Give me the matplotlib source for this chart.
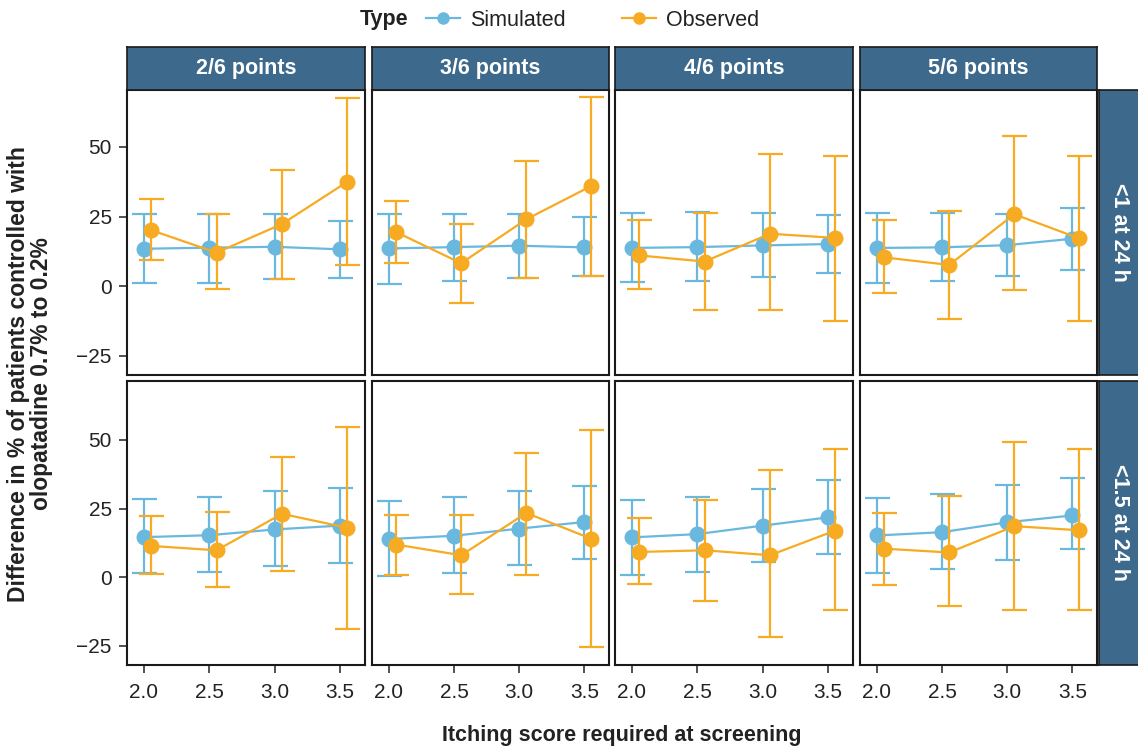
import matplotlib
matplotlib.use('Agg')
import matplotlib.pyplot as plt
from matplotlib.lines import Line2D

plt.rcParams['font.family'] = ['Liberation Sans', 'DejaVu Sans']

# data
itching = [2.0, 2.5, 3.0, 3.5]
col_labels = ['2/6 points', '3/6 points', '4/6 points', '5/6 points']
row_labels = ['<1 at 24 h', '<1.5 at 24 h']

# [row][col] -> values at each itching score
sim_mean = [[[13.4, 13.8, 14.1, 13.2], [13.5, 14.0, 14.5, 13.9],
             [13.7, 14.0, 14.6, 15.1], [13.7, 13.9, 14.7, 17.0]],
            [[14.6, 15.3, 17.4, 18.8], [13.9, 15.1, 17.7, 20.1],
             [14.5, 15.7, 18.8, 21.8], [15.2, 16.4, 20.0, 22.5]]]
sim_lo = [[[1.0, 1.0, 2.6, 2.9], [0.8, 1.7, 2.9, 3.5],
           [1.3, 1.9, 3.4, 4.6], [1.1, 1.9, 3.6, 5.9]],
          [[1.4, 1.8, 4.0, 5.2], [0.5, 1.6, 4.4, 6.5],
           [0.8, 2.0, 5.6, 8.6], [1.6, 3.0, 6.4, 10.4]]]
sim_hi = [[[26.0, 26.0, 26.0, 23.4], [26.0, 26.0, 26.0, 24.7],
           [26.1, 26.7, 26.3, 25.7], [26.3, 26.3, 26.0, 28.1]],
          [[28.5, 29.1, 31.3, 32.4], [27.9, 29.1, 31.5, 33.1],
           [28.1, 29.4, 32.1, 35.4], [28.7, 30.2, 33.5, 36.0]]]
obs_mean = [[[20.1, 12.0, 22.3, 37.5], [19.4, 8.2, 24.0, 36.0],
             [11.0, 8.8, 18.8, 17.3], [10.3, 7.6, 25.8, 17.1]],
            [[11.4, 9.8, 23.1, 18.0], [11.9, 8.0, 23.4, 14.0],
             [9.2, 9.8, 8.0, 17.0], [10.4, 9.0, 18.6, 17.1]]]
obs_lo = [[[9.4, -1.2, 2.6, 7.6], [8.4, -6.1, 3.0, 3.7],
           [-1.1, -8.8, -8.6, -12.6], [-2.4, -11.8, -1.4, -12.5]],
          [[1.1, -3.4, 2.4, -18.8], [0.8, -6.2, 0.7, -25.3],
           [-2.4, -8.5, -21.9, -11.8], [-2.8, -10.6, -12.1, -12.1]]]
obs_hi = [[[31.2, 26.0, 41.6, 67.6], [30.6, 22.4, 45.0, 68.1],
           [23.7, 26.4, 47.6, 46.9], [23.6, 27.0, 53.8, 46.8]],
          [[22.4, 23.7, 43.8, 54.7], [22.5, 22.5, 45.3, 53.6],
           [21.6, 28.2, 39.0, 46.8], [23.4, 29.5, 49.3, 46.9]]]

sim_color = '#6BB8DE'
obs_color = '#F6AB22'
strip_color = '#3D6A8C'
text_color = '#222222'

W, H = 1138, 747
fig = plt.figure(figsize=(W / 100, H / 100), dpi=100)


def box(l, t, r, b):
    return [l / W, 1 - b / H, (r - l) / W, (b - t) / H]


col_x = [(127, 365), (372, 609), (615, 853), (860, 1097)]
row_y = [(90, 375), (381, 665)]


def strip(rect, label, rot, weight):
    sax = fig.add_axes(box(*rect))
    sax.set_xticks([])
    sax.set_yticks([])
    sax.set_facecolor(strip_color)
    for s in sax.spines.values():
        s.set_color('#1a1a1a')
        s.set_linewidth(1.2)
    sax.text(0.5, 0.5, label, transform=sax.transAxes, ha='center',
             va='center', color='white', fontsize=15.5, fontweight=weight,
             rotation=rot)


def draw(ax, x, m, lo, hi, color, z):
    err = [[a - b for a, b in zip(m, lo)], [b - a for a, b in zip(m, hi)]]
    ax.errorbar(x, m, yerr=err, color=color, lw=1.6, capsize=9,
                capthick=1.6, marker='o', ms=10.5, zorder=z)


for r in range(2):
    for c in range(4):
        ax = fig.add_axes(box(col_x[c][0], row_y[r][0], col_x[c][1], row_y[r][1]))
        draw(ax, itching, sim_mean[r][c], sim_lo[r][c], sim_hi[r][c], sim_color, 2)
        draw(ax, [x + 0.055 for x in itching], obs_mean[r][c], obs_lo[r][c],
             obs_hi[r][c], obs_color, 3)
        ax.set_xlim(1.87, 3.69)
        ax.set_ylim(-32, 70.5 if r == 0 else 71.5)
        ax.set_xticks(itching)
        ax.set_yticks([-25, 0, 25, 50])
        for s in ax.spines.values():
            s.set_color('#1a1a1a')
            s.set_linewidth(1.5)
        ax.tick_params(length=6, width=1.2, color='#333333', labelsize=15,
                       labelcolor=text_color, pad=5)
        ax.tick_params(axis='x', pad=7)
        if c > 0:
            ax.tick_params(axis='y', left=False, labelleft=False)
        if r == 0:
            ax.tick_params(axis='x', bottom=False, labelbottom=False)
            strip((col_x[c][0], 47, col_x[c][1], 90), col_labels[c], 0, 'bold')
        else:
            ax.set_xticklabels(['%.1f' % x for x in itching])
    strip((1099, row_y[r][0], 1140, row_y[r][1]), row_labels[r], -90, 'semibold')

fig.text(30 / W, 1 - 374 / H, 'Difference in % of patients controlled with\nolopatadine 0.7% to 0.2%',
         rotation=90, ha='center', va='center', fontsize=16.5, fontweight='bold',
         color=text_color, linespacing=1.05)
fig.text(622 / W, 1 - 735 / H, 'Itching score required at screening',
         ha='center', va='center', fontsize=15.5, fontweight='bold', color=text_color)

# legend
fig.text(360 / W, 1 - 20 / H, 'Type', ha='left', va='center', fontsize=15.5,
         fontweight='bold', color=text_color)
handles = [Line2D([], [], color=sim_color, marker='o', ms=8, lw=1.6),
           Line2D([], [], color=obs_color, marker='o', ms=8, lw=1.6)]
fig.legend(handles, ['Simulated', 'Observed'], loc='center left',
           bbox_to_anchor=(426 / W, 1 - 20 / H), ncol=2, frameon=False,
           fontsize=15.5, handlelength=1.6, handletextpad=0.45,
           columnspacing=2.6, labelcolor=text_color, borderpad=0,
           borderaxespad=0)

fig.savefig('out.png', dpi=100)
